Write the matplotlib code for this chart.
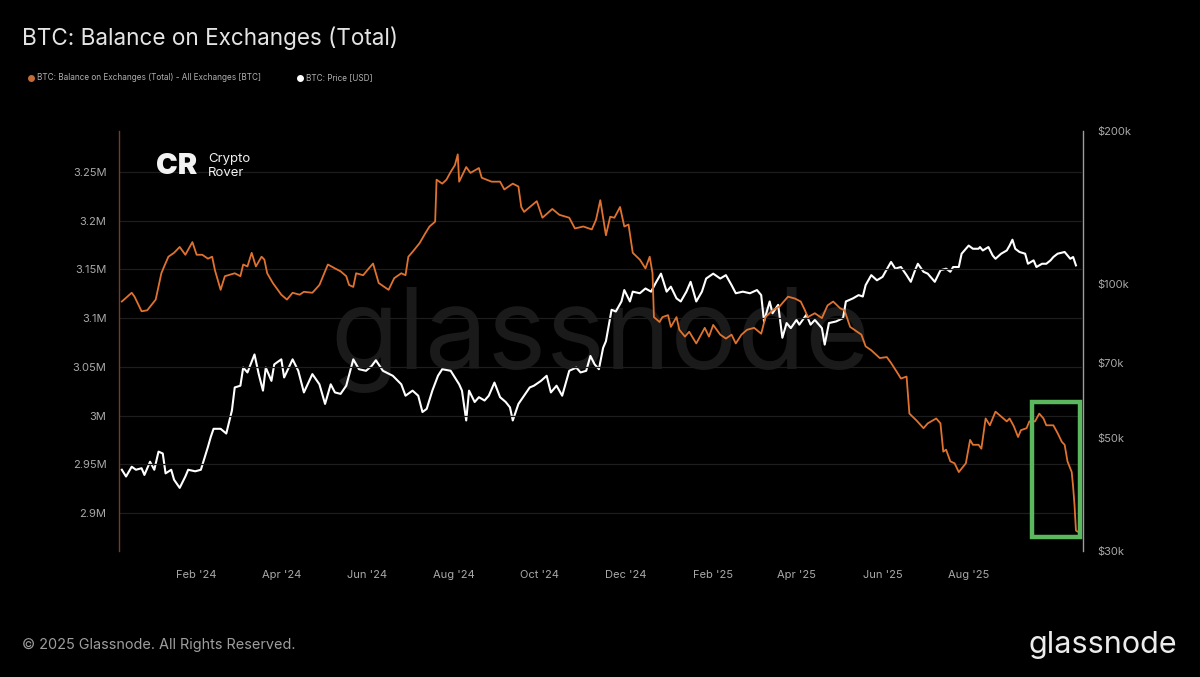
import matplotlib
matplotlib.use('Agg')
import matplotlib.pyplot as plt
import matplotlib.dates as mdates
from matplotlib.patches import Rectangle
from matplotlib.lines import Line2D
import pandas as pd

plt.rcParams['font.family'] = ['Inter', 'DejaVu Sans']

# ---------------- data ----------------
balance_dates = [
    '2023-12-10', '2023-12-17', '2023-12-19', '2023-12-24', '2023-12-28', '2024-01-03', '2024-01-07',
    '2024-01-09', '2024-01-12', '2024-01-16', '2024-01-20', '2024-01-24', '2024-01-29', '2024-02-01',
    '2024-02-05', '2024-02-09', '2024-02-12', '2024-02-14', '2024-02-18', '2024-02-21', '2024-02-28',
    '2024-03-03', '2024-03-05', '2024-03-08', '2024-03-11', '2024-03-14', '2024-03-18', '2024-03-20',
    '2024-03-22', '2024-03-26', '2024-04-01', '2024-04-05', '2024-04-09', '2024-04-14', '2024-04-17',
    '2024-04-23', '2024-04-28', '2024-05-04', '2024-05-09', '2024-05-13', '2024-05-17', '2024-05-19',
    '2024-05-22', '2024-05-24', '2024-05-29', '2024-06-02', '2024-06-05', '2024-06-09', '2024-06-13',
    '2024-06-16', '2024-06-20', '2024-06-25', '2024-06-28', '2024-06-30', '2024-07-03', '2024-07-08',
    '2024-07-12', '2024-07-15', '2024-07-19', '2024-07-20', '2024-07-24', '2024-07-27', '2024-07-30',
    '2024-08-02', '2024-08-04', '2024-08-05', '2024-08-10', '2024-08-13', '2024-08-19', '2024-08-21',
    '2024-08-28', '2024-09-03', '2024-09-06', '2024-09-12', '2024-09-16', '2024-09-18', '2024-09-20',
    '2024-09-29', '2024-10-03', '2024-10-10', '2024-10-15', '2024-10-22', '2024-10-26', '2024-11-01',
    '2024-11-07', '2024-11-10', '2024-11-13', '2024-11-17', '2024-11-20', '2024-11-23', '2024-11-27',
    '2024-11-30', '2024-12-03', '2024-12-06', '2024-12-11', '2024-12-15', '2024-12-18', '2024-12-20',
    '2024-12-21', '2024-12-25', '2024-12-27', '2024-12-31', '2025-01-02', '2025-01-06', '2025-01-08',
    '2025-01-12', '2025-01-15', '2025-01-20', '2025-01-26', '2025-01-29', '2025-02-01', '2025-02-06',
    '2025-02-10', '2025-02-14', '2025-02-17', '2025-02-21', '2025-02-25', '2025-03-02', '2025-03-07',
    '2025-03-10', '2025-03-15', '2025-03-20', '2025-03-26', '2025-03-31', '2025-04-04', '2025-04-07',
    '2025-04-09', '2025-04-14', '2025-04-19', '2025-04-23', '2025-04-27', '2025-05-02', '2025-05-05',
    '2025-05-09', '2025-05-12', '2025-05-17', '2025-05-20', '2025-05-24', '2025-05-30', '2025-06-04',
    '2025-06-07', '2025-06-11', '2025-06-14', '2025-06-18', '2025-06-20', '2025-06-25', '2025-06-30',
    '2025-07-03', '2025-07-09', '2025-07-12', '2025-07-14', '2025-07-16', '2025-07-19', '2025-07-22',
    '2025-07-25', '2025-07-30', '2025-08-02', '2025-08-04', '2025-08-08', '2025-08-10', '2025-08-13',
    '2025-08-16', '2025-08-20', '2025-08-24', '2025-08-28', '2025-08-30', '2025-09-02', '2025-09-05',
    '2025-09-07', '2025-09-11', '2025-09-13', '2025-09-17', '2025-09-20', '2025-09-23', '2025-09-25',
    '2025-09-30', '2025-10-03', '2025-10-06', '2025-10-08', '2025-10-10', '2025-10-13', '2025-10-14',
    '2025-10-15', '2025-10-16', '2025-10-17',
]
balance_btc_m = [
    3.117, 3.126, 3.122, 3.107, 3.108, 3.119, 3.146,
    3.153, 3.163, 3.167, 3.173, 3.165, 3.178, 3.165,
    3.165, 3.161, 3.163, 3.149, 3.129, 3.143, 3.146,
    3.143, 3.155, 3.153, 3.167, 3.153, 3.163, 3.160,
    3.146, 3.136, 3.124, 3.119, 3.126, 3.124, 3.127,
    3.126, 3.134, 3.155, 3.151, 3.148, 3.143, 3.134,
    3.132, 3.146, 3.144, 3.151, 3.156, 3.136, 3.132,
    3.129, 3.141, 3.146, 3.144, 3.163, 3.168, 3.177,
    3.187, 3.194, 3.199, 3.242, 3.238, 3.242, 3.250,
    3.257, 3.268, 3.240, 3.255, 3.249, 3.254, 3.244,
    3.240, 3.240, 3.232, 3.238, 3.235, 3.214, 3.209,
    3.220, 3.203, 3.212, 3.206, 3.203, 3.192, 3.194,
    3.191, 3.201, 3.221, 3.185, 3.204, 3.203, 3.214,
    3.194, 3.196, 3.167, 3.160, 3.151, 3.163, 3.146,
    3.101, 3.096, 3.101, 3.103, 3.091, 3.101, 3.088,
    3.081, 3.086, 3.074, 3.090, 3.081, 3.093, 3.083,
    3.079, 3.083, 3.074, 3.083, 3.088, 3.090, 3.084,
    3.101, 3.108, 3.112, 3.122, 3.120, 3.117, 3.108,
    3.101, 3.105, 3.100, 3.113, 3.117, 3.110, 3.108,
    3.091, 3.088, 3.083, 3.071, 3.067, 3.059, 3.060,
    3.054, 3.045, 3.038, 3.040, 3.002, 2.995, 2.987,
    2.992, 2.997, 2.992, 2.963, 2.965, 2.953, 2.951,
    2.942, 2.951, 2.975, 2.970, 2.970, 2.966, 2.997,
    2.990, 3.004, 2.999, 2.994, 2.997, 2.989, 2.978,
    2.985, 2.987, 2.994, 2.994, 3.002, 2.997, 2.990,
    2.990, 2.982, 2.973, 2.970, 2.953, 2.942, 2.927,
    2.908, 2.882, 2.881,
]

price_dates = [
    '2023-12-10', '2023-12-13', '2023-12-17', '2023-12-20', '2023-12-24', '2023-12-26', '2023-12-30',
    '2024-01-02', '2024-01-05', '2024-01-08', '2024-01-10', '2024-01-14', '2024-01-16', '2024-01-20',
    '2024-01-24', '2024-01-26', '2024-01-31', '2024-02-04', '2024-02-09', '2024-02-11', '2024-02-13',
    '2024-02-18', '2024-02-22', '2024-02-26', '2024-02-28', '2024-03-03', '2024-03-05', '2024-03-08',
    '2024-03-13', '2024-03-16', '2024-03-19', '2024-03-21', '2024-03-25', '2024-03-27', '2024-04-01',
    '2024-04-03', '2024-04-09', '2024-04-13', '2024-04-17', '2024-04-23', '2024-04-28', '2024-05-02',
    '2024-05-06', '2024-05-09', '2024-05-13', '2024-05-17', '2024-05-22', '2024-05-26', '2024-05-31',
    '2024-06-04', '2024-06-07', '2024-06-12', '2024-06-19', '2024-06-25', '2024-06-28', '2024-07-03',
    '2024-07-07', '2024-07-10', '2024-07-13', '2024-07-17', '2024-07-21', '2024-07-24', '2024-07-30',
    '2024-08-05', '2024-08-07', '2024-08-10', '2024-08-12', '2024-08-16', '2024-08-19', '2024-08-23',
    '2024-08-26', '2024-08-30', '2024-09-03', '2024-09-07', '2024-09-10', '2024-09-12', '2024-09-16',
    '2024-09-20', '2024-09-24', '2024-09-27', '2024-10-02', '2024-10-06', '2024-10-09', '2024-10-13',
    '2024-10-17', '2024-10-22', '2024-10-27', '2024-10-30', '2024-11-03', '2024-11-06', '2024-11-09',
    '2024-11-12', '2024-11-15', '2024-11-17', '2024-11-21', '2024-11-24', '2024-11-28', '2024-11-30',
    '2024-12-04', '2024-12-06', '2024-12-11', '2024-12-15', '2024-12-19', '2024-12-22', '2024-12-26',
    '2024-12-30', '2025-01-02', '2025-01-06', '2025-01-09', '2025-01-13', '2025-01-16', '2025-01-20',
    '2025-01-24', '2025-01-27', '2025-02-01', '2025-02-06', '2025-02-10', '2025-02-14', '2025-02-17',
    '2025-02-22', '2025-02-27', '2025-03-04', '2025-03-07', '2025-03-09', '2025-03-13', '2025-03-15',
    '2025-03-19', '2025-03-22', '2025-03-25', '2025-03-28', '2025-04-01', '2025-04-03', '2025-04-08',
    '2025-04-11', '2025-04-14', '2025-04-19', '2025-04-21', '2025-04-24', '2025-04-29', '2025-05-04',
    '2025-05-06', '2025-05-11', '2025-05-15', '2025-05-18', '2025-05-20', '2025-05-24', '2025-05-28',
    '2025-06-01', '2025-06-03', '2025-06-07', '2025-06-10', '2025-06-14', '2025-06-18', '2025-06-21',
    '2025-06-24', '2025-06-26', '2025-06-30', '2025-07-03', '2025-07-08', '2025-07-12', '2025-07-16',
    '2025-07-19', '2025-07-21', '2025-07-25', '2025-07-27', '2025-07-30', '2025-08-01', '2025-08-04',
    '2025-08-08', '2025-08-09', '2025-08-11', '2025-08-15', '2025-08-18', '2025-08-20', '2025-08-24',
    '2025-08-28', '2025-08-30', '2025-09-01', '2025-09-03', '2025-09-06', '2025-09-10', '2025-09-12',
    '2025-09-16', '2025-09-18', '2025-09-22', '2025-09-25', '2025-09-28', '2025-09-30', '2025-10-03',
    '2025-10-08', '2025-10-12', '2025-10-14', '2025-10-16',
]
price_usd_k = [
    43.3, 42.0, 43.9, 43.3, 43.6, 42.3, 44.9,
    43.3, 47.0, 46.6, 42.6, 43.3, 41.4, 39.9,
    42.0, 43.3, 43.0, 43.3, 48.0, 50.2, 52.1,
    52.1, 51.0, 56.6, 62.8, 63.3, 68.7, 67.2,
    72.9, 66.7, 61.9, 68.7, 64.7, 69.7, 71.3,
    65.7, 71.3, 67.7, 61.4, 66.7, 63.7, 58.3,
    63.7, 61.4, 61.0, 63.3, 71.3, 68.2, 67.7,
    69.2, 71.0, 67.7, 66.2, 63.7, 60.5, 61.9,
    60.5, 56.2, 57.0, 61.9, 66.2, 68.2, 67.7,
    63.7, 61.9, 54.1, 61.9, 58.8, 60.1, 59.2,
    60.5, 64.2, 60.1, 58.8, 57.4, 54.1, 58.3,
    60.5, 62.8, 63.3, 64.7, 66.2, 61.4, 63.3,
    60.5, 67.7, 68.7, 67.2, 67.7, 72.4, 69.7,
    68.2, 75.1, 77.4, 89.2, 88.5, 92.6, 97.5,
    92.6, 96.8, 96.1, 98.2, 96.8, 100.4, 105.0,
    96.8, 99.0, 93.9, 92.6, 96.8, 101.2, 92.6,
    96.8, 102.7, 105.0, 102.7, 104.3, 99.7, 96.1,
    96.8, 96.1, 97.5, 95.3, 84.6, 92.6, 87.8,
    91.2, 78.6, 84.0, 82.1, 85.2, 83.4, 87.2,
    83.4, 85.2, 82.1, 76.2, 84.0, 84.6, 85.9,
    92.6, 93.9, 95.3, 94.7, 99.7, 104.3, 101.9,
    103.5, 105.9, 110.7, 107.4, 108.2, 104.3, 101.2,
    106.6, 109.8, 105.9, 105.0, 101.2, 106.6, 107.4,
    105.9, 108.2, 108.2, 114.9, 117.5, 119.2, 117.5,
    117.5, 118.4, 116.6, 118.4, 114.0, 112.3, 114.9,
    116.6, 119.2, 122.4, 117.5, 115.8, 114.9, 109.8,
    111.5, 108.2, 109.8, 109.8, 111.5, 113.2, 114.9,
    115.8, 112.3, 113.2, 109.0,
]

left_ticks = [2.9, 2.95, 3.0, 3.05, 3.1, 3.15, 3.2, 3.25]
left_labels = ['2.9M', '2.95M', '3M', '3.05M', '3.1M', '3.15M', '3.2M', '3.25M']
right_ticks = [30, 50, 70, 100, 200]
right_labels = ['$30k', '$50k', '$70k', '$100k', '$200k']
month_ticks = ['2024-02-01', '2024-04-01', '2024-06-01', '2024-08-01', '2024-10-01',
               '2024-12-01', '2025-02-01', '2025-04-01', '2025-06-01', '2025-08-01']
month_labels = ["Feb '24", "Apr '24", "Jun '24", "Aug '24", "Oct '24",
                "Dec '24", "Feb '25", "Apr '25", "Jun '25", "Aug '25"]
x_range = ('2023-12-08', '2025-10-21')
left_range = (2.861, 3.292)
right_range = (30, 200)
highlight_dates = ('2025-09-15', '2025-10-19')
highlight_values = (2.875, 3.014)

# ---------------- figure ----------------
W, H = 1200, 677
fig = plt.figure(figsize=(W / 100, H / 100), dpi=100, facecolor='black')

ax = fig.add_axes([119 / W, 1 - 551 / H, (1083 - 119) / W, (551 - 131) / H])
ax2 = ax.twinx()
ax.set_zorder(2)
ax2.set_zorder(1)
ax.patch.set_visible(False)
ax2.patch.set_visible(False)

bd = pd.to_datetime(balance_dates)
pdts = pd.to_datetime(price_dates)

ax2.plot(pdts, price_usd_k, color='white', lw=1.5, solid_joinstyle='round')
ax.plot(bd, balance_btc_m, color='#e0722f', lw=1.3, solid_joinstyle='round')

ax.set_xlim(pd.Timestamp(x_range[0]), pd.Timestamp(x_range[1]))
ax.set_ylim(*left_range)
ax2.set_yscale('log')
ax2.set_ylim(*right_range)

ax.set_yticks(left_ticks)
ax.set_yticklabels(left_labels)
ax2.set_yticks(right_ticks)
ax2.set_yticklabels(right_labels)
ax2.yaxis.set_minor_locator(matplotlib.ticker.NullLocator())
ax.set_xticks(pd.to_datetime(month_ticks))
ax.set_xticklabels(month_labels)

ax.grid(axis='y', color='#1d1d1d', lw=0.9)
ax.set_axisbelow(True)

ax.tick_params(axis='y', length=0, pad=9, labelsize=8, labelcolor='#a9a9a9')
ax.tick_params(axis='x', length=0, pad=14, labelsize=8, labelcolor='#a9a9a9')
ax2.tick_params(axis='y', length=0, pad=10, labelsize=8, labelcolor='#a9a9a9')

for s in ['top', 'right', 'bottom']:
    ax.spines[s].set_visible(False)
ax.spines['left'].set_color('#7a3a26')
ax.spines['left'].set_linewidth(1.0)
for s in ['top', 'left', 'bottom']:
    ax2.spines[s].set_visible(False)
ax2.spines['right'].set_color('#9c9c9c')
ax2.spines['right'].set_linewidth(1.0)

# highlight box
x0 = mdates.date2num(pd.Timestamp(highlight_dates[0]))
x1 = mdates.date2num(pd.Timestamp(highlight_dates[1]))
ax.add_patch(Rectangle((x0, highlight_values[0]), x1 - x0,
                       highlight_values[1] - highlight_values[0],
                       fill=False, ec='#5cb85e', lw=3.2, zorder=6))

# watermark
fig.text(600 / W, 1 - 340 / H, 'glassnode', ha='center', va='center',
         fontsize=80, color='#1a1a1a', zorder=0)

# title
fig.text(22 / W, 1 - 38 / H, 'BTC: Balance on Exchanges (Total)', ha='left', va='center',
         fontsize=16.2, color='#e4e4e4')

# legend
fig.add_artist(Line2D([31 / W], [1 - 78 / H], marker='o', ms=4, color='#c46b36',
                      transform=fig.transFigure, lw=0))
fig.text(37 / W, 1 - 78 / H, 'BTC: Balance on Exchanges (Total) - All Exchanges [BTC]',
         ha='left', va='center', fontsize=5.9, color='#b0b0b0')
fig.add_artist(Line2D([300 / W], [1 - 78 / H], marker='o', ms=4, color='white',
                      transform=fig.transFigure, lw=0))
fig.text(306 / W, 1 - 78 / H, 'BTC: Price [USD]', ha='left', va='center',
         fontsize=5.9, color='#b0b0b0')

# Crypto Rover mark
fig.text(156 / W, 1 - 166 / H, 'CR', ha='left', va='center', fontsize=21,
         fontweight='black', color='#f2f2f2')
fig.text(208 / W, 1 - 166 / H, 'Crypto\nRover', ha='left', va='center', fontsize=9.5,
         color='#f2f2f2', linespacing=1.15)

# footer
fig.text(22 / W, 1 - 645 / H, '\u00a9 2025 Glassnode. All Rights Reserved.', ha='left',
         va='center', fontsize=10.4, color='#9e9e9e')
fig.text(1177 / W, 1 - 645 / H, 'glassnode', ha='right', va='center', fontsize=22,
         color='#ececec')

fig.savefig('out.png', dpi=100, facecolor='black')
